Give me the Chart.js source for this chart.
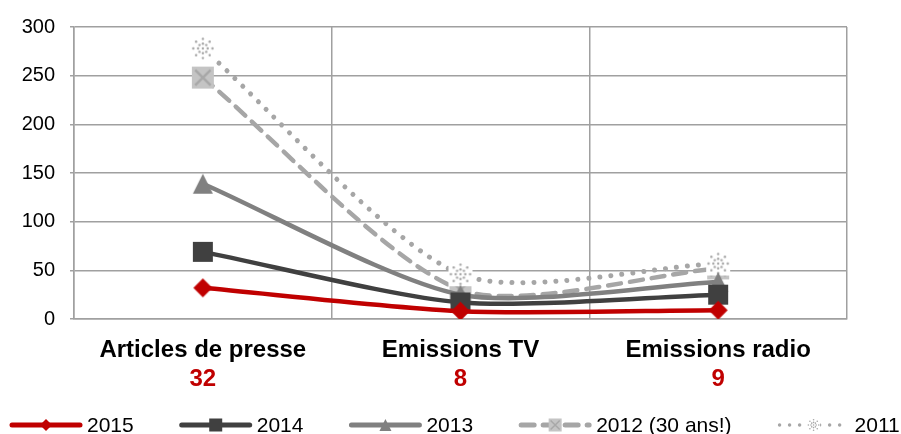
<!DOCTYPE html>
<html>
<head>
<meta charset="utf-8">
<script src="https://cdn.jsdelivr.net/npm/chart.js@4/dist/chart.umd.min.js"></script>
<style>
html, body { margin: 0; padding: 0; background: #fff; }
#wrap { width: 901px; height: 434px; position: relative; }
</style>
</head>
<body>
<div id="wrap"><canvas id="chart"></canvas></div>
<script>
// Données
const categories = ['Articles de presse', 'Emissions TV', 'Emissions radio'];
const totals = [32, 8, 9];
const serie2015 = [32, 8, 9];
const serie2014 = [69, 17, 25];
const serie2013 = [139, 25, 38];
const serie2012 = [248, 30, 52];
const serie2011 = [278, 46, 57];
const yTicks = [0, 50, 100, 150, 200, 250, 300];
const seriesLabels = ['2015', '2014', '2013', '2012 (30 ans!)', '2011'];

const FONT = '"Liberation Sans", Arial, sans-serif';
const GRID = '#a0a0a0';

// Dessin des marqueurs (points et légende)
function drawMarker(ctx, kind, cx, cy, s, color) {
    ctx.save();
    if (kind === 'diamond') {
        ctx.fillStyle = color;
        ctx.beginPath();
        ctx.moveTo(cx, cy - s); ctx.lineTo(cx + s, cy);
        ctx.lineTo(cx, cy + s); ctx.lineTo(cx - s, cy);
        ctx.closePath(); ctx.fill();
    } else if (kind === 'square') {
        ctx.fillStyle = color;
        ctx.fillRect(cx - s, cy - s, 2 * s, 2 * s);
    } else if (kind === 'triangle') {
        ctx.fillStyle = color;
        ctx.beginPath();
        ctx.moveTo(cx, cy - s); ctx.lineTo(cx + s, cy + s);
        ctx.lineTo(cx - s, cy + s);
        ctx.closePath(); ctx.fill();
    } else if (kind === 'boxX') {
        ctx.fillStyle = '#c4c4c4';
        ctx.fillRect(cx - s, cy - s, 2 * s, 2 * s);
        ctx.strokeStyle = '#a8a8a8';
        ctx.lineWidth = Math.max(1.5, s / 4.5);
        ctx.beginPath();
        ctx.moveTo(cx - s * 0.7, cy - s * 0.7); ctx.lineTo(cx + s * 0.7, cy + s * 0.7);
        ctx.moveTo(cx + s * 0.7, cy - s * 0.7); ctx.lineTo(cx - s * 0.7, cy + s * 0.7);
        ctx.stroke();
    } else if (kind === 'dotStar') {
        ctx.fillStyle = '#fff';
        ctx.fillRect(cx - s, cy - s, 2 * s, 2 * s);
        ctx.fillStyle = color;
        const r = Math.max(0.8, s / 10);
        for (let a = 0; a < 8; a++) {
            const ang = a * Math.PI / 4;
            for (const d of [0.4, 0.8]) {
                ctx.beginPath();
                ctx.arc(cx + Math.cos(ang) * s * d, cy + Math.sin(ang) * s * d, r, 0, Math.PI * 2);
                ctx.fill();
            }
        }
        ctx.beginPath(); ctx.arc(cx, cy, r, 0, Math.PI * 2); ctx.fill();
    }
    ctx.restore();
}

function markerImage(kind, s, color) {
    const c = document.createElement('canvas');
    c.width = 2 * s + 2; c.height = 2 * s + 2;
    drawMarker(c.getContext('2d'), kind, s + 1, s + 1, s, color);
    return c;
}

const styles = [
    { color: '#c00000', marker: 'diamond', size: 9.5, legendSize: 6, dash: [], order: 0 },
    { color: '#404040', marker: 'square', size: 10, legendSize: 6.5, dash: [], order: 1 },
    { color: '#808080', marker: 'triangle', size: 10, legendSize: 6, dash: [], order: 2 },
    { color: '#a6a6a6', marker: 'boxX', size: 11, legendSize: 6.5, dash: [13, 9], order: 4 },
    { color: '#a6a6a6', marker: 'dotStar', size: 12, legendSize: 6.5, dash: [0.01, 11], order: 3 }
];
const allSeries = [serie2015, serie2014, serie2013, serie2012, serie2011];

const datasets = allSeries.map((data, i) => ({
    label: seriesLabels[i],
    data: data,
    order: styles[i].order,
    borderColor: styles[i].color,
    backgroundColor: styles[i].color,
    borderWidth: i === 4 ? 5 : 4.5,
    borderDash: styles[i].dash,
    borderCapStyle: 'round',
    borderJoinStyle: 'round',
    tension: 0.25,
    pointStyle: markerImage(styles[i].marker, styles[i].size, styles[i].color),
    pointRadius: 10
}));

// Totaux en rouge sous chaque catégorie
const totalsPlugin = {
    id: 'totals',
    afterDraw(chart) {
        const ctx = chart.ctx;
        const xs = chart.scales.x;
        ctx.save();
        ctx.font = 'bold 24px ' + FONT;
        ctx.fillStyle = '#c00000';
        ctx.textAlign = 'center';
        ctx.textBaseline = 'middle';
        totals.forEach((t, i) => ctx.fillText(String(t), xs.getPixelForTick(i), xs.top + 60));
        ctx.restore();
    }
};

// Légende façon Excel (trait + marqueur)
const legendPlugin = {
    id: 'excelLegend',
    afterDraw(chart) {
        const ctx = chart.ctx;
        const y = chart.height - 9;
        let x = 10;
        ctx.save();
        ctx.font = '21px ' + FONT;
        ctx.textBaseline = 'middle';
        chart.data.datasets.forEach((ds, i) => {
            const st = styles[i];
            ctx.save();
            ctx.strokeStyle = st.color;
            ctx.lineWidth = i === 4 ? 3.5 : 5;
            ctx.lineCap = 'round';
            ctx.setLineDash(i === 4 ? [0.01, 10] : st.dash);
            ctx.beginPath();
            ctx.moveTo(x + 2, y); ctx.lineTo(x + 70, y);
            ctx.stroke();
            ctx.restore();
            drawMarker(ctx, st.marker, x + 36, y, st.legendSize, st.color);
            ctx.fillStyle = '#000';
            ctx.fillText(ds.label, x + 77, y + 1);
            x += 77 + ctx.measureText(ds.label).width + 46;
        });
        ctx.restore();
    }
};

new Chart(document.getElementById('chart'), {
    type: 'line',
    data: { labels: categories, datasets: datasets },
    options: {
        responsive: true,
        maintainAspectRatio: false,
        animation: false,
        events: [],
        layout: { padding: { top: 26, right: 54, left: 0, bottom: 0 } },
        plugins: {
            legend: { display: false },
            tooltip: { enabled: false }
        },
        scales: {
            x: {
                offset: true,
                grid: { offset: true, color: GRID, lineWidth: 1.5, drawTicks: false },
                border: { color: GRID, width: 1.5 },
                ticks: { color: '#000', font: { family: FONT, size: 24, weight: 'bold' }, padding: 17, maxRotation: 0 },
                afterFit(scale) { scale.height = 115; }
            },
            y: {
                min: 0,
                max: 300,
                afterBuildTicks(scale) { scale.ticks = yTicks.map(v => ({ value: v })); },
                grid: { color: GRID, lineWidth: 1.5, tickLength: 4 },
                border: { color: GRID, width: 1.5 },
                ticks: { color: '#000', font: { family: FONT, size: 20 }, padding: 15 },
                afterFit(scale) { scale.width = 74; }
            }
        }
    },
    plugins: [totalsPlugin, legendPlugin]
});
</script>
</body>
</html>
